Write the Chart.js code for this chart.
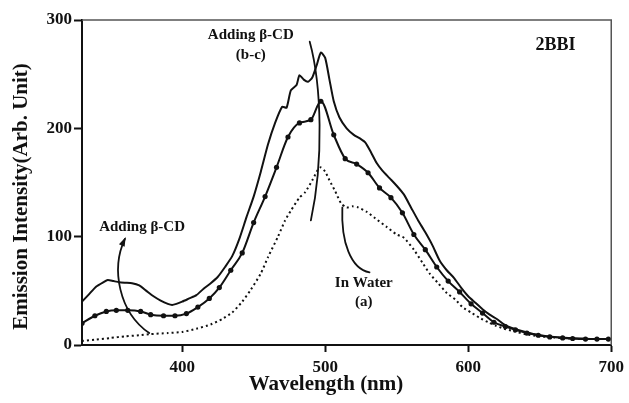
<!DOCTYPE html>
<html>
<head>
<meta charset="utf-8">
<script src="https://cdn.jsdelivr.net/npm/chart.js@4.4.1/dist/chart.umd.min.js"></script>
<style>
  html, body { margin: 0; padding: 0; background: #fff; }
  #wrap { width: 629px; height: 403px; }
</style>
</head>
<body>
<div id="wrap"><canvas id="spectra"></canvas></div>
<script>
// (c) adding more beta-CD: upper solid curve
const waveC = [330, 335, 340, 345, 348, 352, 356, 360, 365, 370, 375, 380, 385, 390, 393, 396, 400, 405, 410, 415, 420, 425, 430, 435, 440, 445, 450, 455, 460, 465, 470, 473, 476, 480, 482, 485, 488, 491, 494, 497, 500, 503, 506, 510, 515, 520, 525, 528, 532, 536, 540, 545, 550, 555, 560, 565, 570, 575, 580, 585, 590, 595, 600, 605, 610, 615, 620, 625, 630, 640, 650, 660, 670, 680, 690, 700];
const intensC = [40, 47, 54, 58, 60, 59, 58, 57.5, 57, 55, 50, 45, 41, 38, 37, 38, 40, 43, 46, 52, 57, 63, 72, 82, 98, 118, 137, 160, 185, 205, 220, 219, 235, 240, 249, 245, 243, 247, 258, 270, 265, 245, 225, 210, 200, 194, 190, 187, 178, 168, 161, 154, 147, 139, 127, 115, 104, 92, 78, 69, 62, 53, 45, 39, 33, 28, 24, 19, 16, 12, 9, 7.5, 6.5, 6, 5.5, 5.5];

// (b) adding beta-CD: curve with dot markers
const waveB = [330, 339, 347, 354, 362, 371, 378, 387, 395, 403, 411, 419, 426, 434, 442, 450, 458, 466, 474, 482, 490, 497, 506, 514, 522, 530, 538, 546, 554, 562, 570, 578, 586, 594, 602, 610, 618, 626, 633, 641, 649, 657, 666, 673, 682, 690, 698];
const intensB = [20, 27, 31, 32, 32, 31, 28, 27, 27, 29, 35, 43, 53, 69, 85, 113, 137, 164, 192, 205, 208, 225, 194, 172, 167, 159, 145, 136, 122, 102, 88, 72, 59, 49, 38, 29.5, 21, 17, 14, 11, 9, 7.5, 6.5, 6, 5.5, 5.5, 5.5];

// (a) in water: dotted curve
const waveA = [330, 340, 350, 360, 370, 377, 390, 400, 410, 420, 428, 435, 442, 448, 455, 460, 467, 472, 476, 482, 486, 491, 495, 497, 500, 503, 507, 511, 515, 519, 523, 529, 535, 543, 550, 555, 562, 568, 573, 579, 585, 591, 596, 602, 608, 614, 619, 625, 631, 640, 650, 660, 670, 680, 690, 700];
const intensA = [3.7, 5, 6.5, 8, 9, 10, 11, 12, 15, 19, 24, 30, 40, 51, 66, 81, 100, 115, 124, 136, 141, 152, 162, 164, 160, 152, 142, 131, 127, 128, 127, 123, 117, 109, 102, 99, 88, 76, 66, 57, 48, 42, 35, 30, 25, 21, 18, 15, 13, 10, 8, 7, 6, 5.5, 5.5, 5.5];

const xTicks = [400, 500, 600, 700];
const yTicks = [0, 100, 200, 300];

const SERIF = '"Liberation Serif", "Times New Roman", serif';
const INK = '#111';

function pts(xs, ys) {
  return xs.map((x, i) => ({ x: x, y: ys[i] }));
}

// annotations, axis titles and frame drawn on top of the plot
const decor = {
  id: 'decor',
  afterDraw(chart) {
    const ctx = chart.ctx;
    const xs = chart.scales.x, ys = chart.scales.y;
    const ca = chart.chartArea;
    const P = (wl, v) => [xs.getPixelForValue(wl), ys.getPixelForValue(v)];

    ctx.save();
    // top and right frame
    ctx.strokeStyle = '#555';
    ctx.lineWidth = 1.5;
    ctx.beginPath();
    ctx.moveTo(ca.left, ca.top);
    ctx.lineTo(ca.right, ca.top);
    ctx.lineTo(ca.right, ca.bottom);
    ctx.stroke();

    ctx.fillStyle = INK;
    ctx.textAlign = 'center';
    ctx.textBaseline = 'middle';

    ctx.font = 'bold 15px ' + SERIF;
    let p = P(448, 286); ctx.fillText('Adding \u03b2-CD', p[0], p[1]);
    p = P(448, 268); ctx.fillText('(b-c)', p[0], p[1]);
    p = P(372, 109); ctx.fillText('Adding \u03b2-CD', p[0], p[1]);
    p = P(527, 57); ctx.fillText('In Water', p[0], p[1]);
    p = P(527, 39.5); ctx.fillText('(a)', p[0], p[1]);

    ctx.font = 'bold 18px ' + SERIF;
    p = P(661, 277); ctx.fillText('2BBI', p[0], p[1]);

    // axis titles
    ctx.font = 'bold 21px ' + SERIF;
    ctx.fillText('Wavelength (nm)', 326, 385);
    ctx.save();
    ctx.translate(22, (ca.top + ca.bottom) / 2 + 14);
    ctx.rotate(-Math.PI / 2);
    ctx.fillText('Emission Intensity(Arb. Unit)', 0, 0);
    ctx.restore();

    // curved pointer lines
    ctx.strokeStyle = INK;
    ctx.lineWidth = 1.8;
    ctx.lineCap = 'round';

    let a = P(489.2, 280), b = P(497.5, 240), c = P(499, 170), d = P(490, 115);
    ctx.beginPath();
    ctx.moveTo(a[0], a[1]);
    ctx.bezierCurveTo(b[0], b[1], c[0], c[1], d[0], d[1]);
    ctx.stroke();

    a = P(512, 127); b = P(511, 95); c = P(518, 70); d = P(531, 67);
    ctx.beginPath();
    ctx.moveTo(a[0], a[1]);
    ctx.bezierCurveTo(b[0], b[1], c[0], c[1], d[0], d[1]);
    ctx.stroke();

    a = P(377, 11); b = P(356, 30); c = P(350, 70); d = P(360, 98);
    ctx.beginPath();
    ctx.moveTo(a[0], a[1]);
    ctx.bezierCurveTo(b[0], b[1], c[0], c[1], d[0], d[1]);
    ctx.stroke();
    // arrow head
    const ang = Math.atan2(d[1] - c[1], d[0] - c[0]);
    ctx.beginPath();
    ctx.moveTo(d[0] + 2 * Math.cos(ang), d[1] + 2 * Math.sin(ang));
    ctx.lineTo(d[0] - 8 * Math.cos(ang - 0.4), d[1] - 8 * Math.sin(ang - 0.4));
    ctx.lineTo(d[0] - 8 * Math.cos(ang + 0.4), d[1] - 8 * Math.sin(ang + 0.4));
    ctx.closePath();
    ctx.fillStyle = INK;
    ctx.fill();
    ctx.restore();
  }
};

new Chart(document.getElementById('spectra'), {
  type: 'line',
  data: {
    datasets: [
      {
        label: 'c',
        data: pts(waveC, intensC),
        borderColor: INK,
        borderWidth: 2,
        pointRadius: 0,
        tension: 0.2
      },
      {
        label: 'b',
        data: pts(waveB, intensB),
        borderColor: INK,
        borderWidth: 2,
        pointRadius: 2.6,
        pointBackgroundColor: INK,
        pointBorderWidth: 0,
        cubicInterpolationMode: 'monotone'
      },
      {
        label: 'a',
        data: pts(waveA, intensA),
        borderColor: INK,
        borderWidth: 2,
        borderDash: [2, 3],
        pointRadius: 0,
        tension: 0.2
      }
    ]
  },
  options: {
    responsive: true,
    maintainAspectRatio: false,
    animation: false,
    layout: { padding: { top: 20, right: 13, left: 0, bottom: 0 } },
    plugins: {
      legend: { display: false },
      tooltip: { enabled: false }
    },
    scales: {
      x: {
        type: 'linear',
        min: 330,
        max: 700,
        afterBuildTicks(scale) { scale.ticks = xTicks.map(v => ({ value: v })); },
        afterFit(scale) { scale.height = 58; },
        grid: { drawOnChartArea: false, tickLength: 7, tickWidth: 2, tickColor: INK },
        border: { color: INK, width: 2 },
        ticks: { color: INK, padding: 5, maxRotation: 0, font: { family: SERIF, weight: 'bold', size: 17 } }
      },
      y: {
        min: 0,
        max: 300,
        afterBuildTicks(scale) { scale.ticks = yTicks.map(v => ({ value: v })); },
        afterFit(scale) { scale.width = 82; },
        grid: { drawOnChartArea: false, tickLength: 8, tickWidth: 2, tickColor: INK },
        border: { color: INK, width: 2 },
        ticks: { color: INK, padding: 2, font: { family: SERIF, weight: 'bold', size: 17 } }
      }
    }
  },
  plugins: [decor]
});
</script>
</body>
</html>
